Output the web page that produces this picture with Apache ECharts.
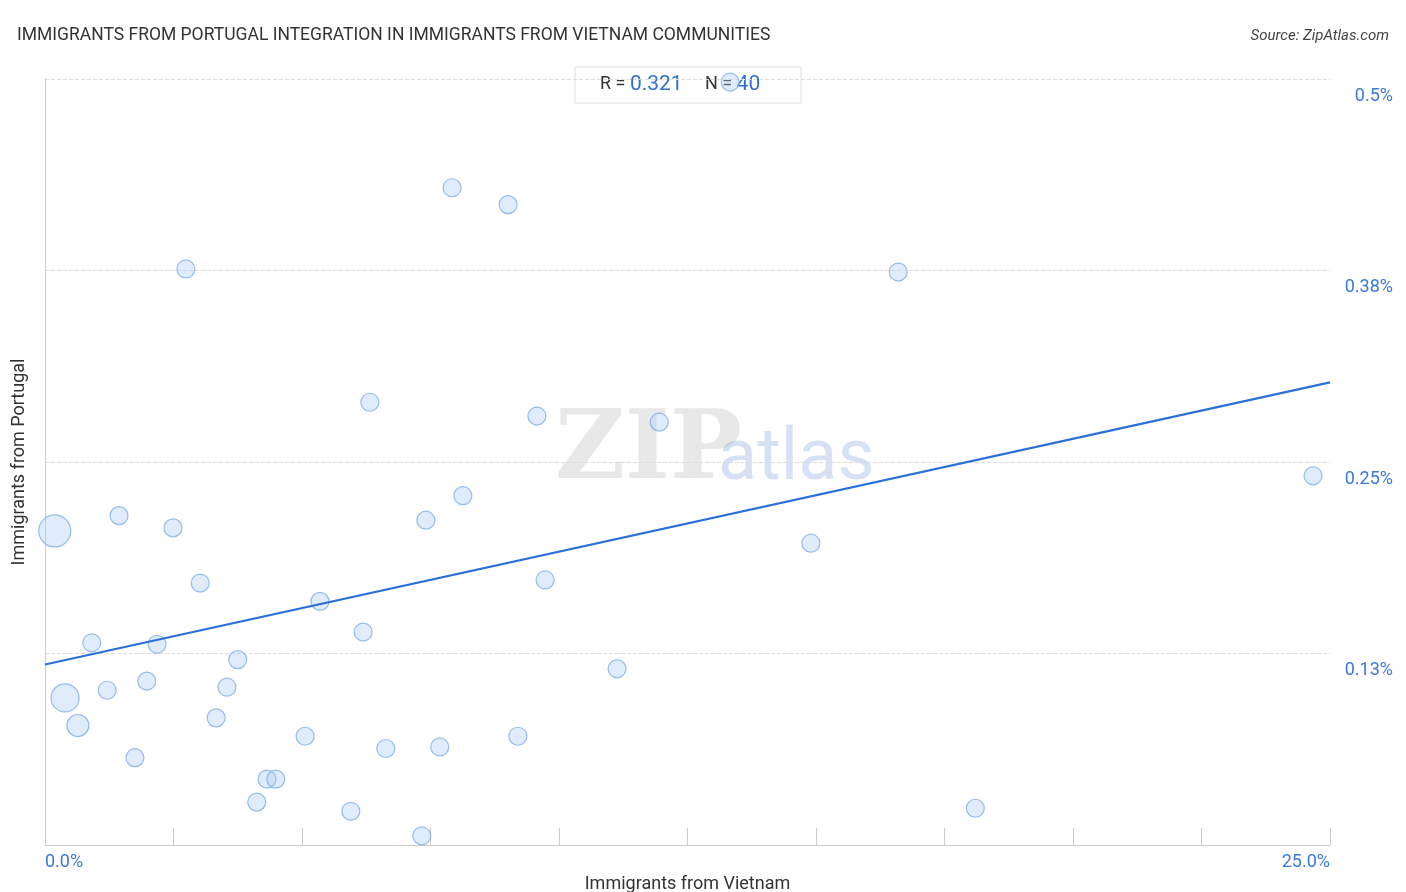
<!DOCTYPE html>
<html><head><meta charset="utf-8">
<script src="https://cdn.jsdelivr.net/npm/echarts@6/dist/echarts.min.js"></script>
<style>html,body{margin:0;padding:0;background:#fff}#c{width:1406px;height:892px}</style>
</head><body><div id="c"></div>
<script>
const xValues=[0.19,0.39,0.64,0.91,1.21,1.44,1.75,1.98,2.18,2.49,2.74,3.02,3.33,3.54,3.75,4.12,4.32,4.49,5.06,5.35,5.95,6.19,6.32,6.63,7.33,7.41,7.68,7.92,8.13,9.01,9.20,9.57,9.73,11.13,11.95,13.33,14.90,16.60,18.10,24.67];
const yValues=[0.205,0.096,0.078,0.132,0.101,0.215,0.057,0.107,0.131,0.207,0.376,0.171,0.083,0.103,0.121,0.028,0.043,0.043,0.071,0.159,0.022,0.139,0.289,0.063,0.006,0.212,0.064,0.429,0.228,0.418,0.071,0.280,0.173,0.115,0.276,0.498,0.197,0.374,0.024,0.241];
const sizes=[32,28,22,18,18,18,18,18,18,18,18,18,18,18,18,18,18,18,18,18,18,18,18,18,18,18,18,18,18,18,18,18,18,18,18,18,18,18,18,18];
const trendX=[0,25];
const trendY=[0.1178,0.302];
const yTicks=[0.125,0.25,0.375,0.5];
const yTickLabels=['0.13%','0.25%','0.38%','0.5%'];

const chart=echarts.init(document.getElementById('c'));
chart.setOption({
  animation:false,
  grid:{left:45,right:76,top:79,bottom:47,containLabel:false,outerBoundsMode:'none'},
  title:[{text:'IMMIGRANTS FROM PORTUGAL INTEGRATION IN IMMIGRANTS FROM VIETNAM COMMUNITIES',left:12,top:22,textStyle:{fontFamily:'Roboto',fontSize:17.5,fontWeight:'normal',color:'#333'}},
         {text:'Source: ZipAtlas.com',right:12,top:24,textStyle:{fontFamily:'Roboto',fontSize:15,fontStyle:'italic',fontWeight:'normal',color:'#444'}}],
  graphic:[
    {type:'text',left:555,top:405,style:{text:'ZIP',font:'bold 96px "DejaVu Serif"',fill:'rgba(190,190,190,0.35)'}},
    {type:'text',left:718,top:425,style:{text:'atlas',font:'72px Roboto',fill:'rgba(120,160,220,0.3)'}},
    {type:'rect',shape:{x:575,y:67,width:226,height:36},style:{fill:'#fff',stroke:'#ddd',lineWidth:1}},
    {type:'text',left:600,top:74,style:{rich:{a:{fontSize:18,fontFamily:'Roboto',fill:'#333'},b:{fontSize:21,fontFamily:'Roboto',fill:'#2f6fd6'}},text:'{a|R = }{b|0.321}{a|     N = }{b|40}'}}
  ],
  xAxis:{type:'value',min:0,max:25,interval:2.5,name:'Immigrants from Vietnam',nameLocation:'middle',nameGap:19,
    nameTextStyle:{fontFamily:'Roboto',fontSize:18,color:'#333'},
    axisLine:{show:true,lineStyle:{color:'#ccc'}},
    axisTick:{show:true,inside:true,length:17,lineStyle:{color:'#ccc'}},
    splitLine:{show:false},
    axisLabel:{fontFamily:'Roboto',fontSize:18,color:'#3c78d8',margin:8,alignMinLabel:'left',alignMaxLabel:'right',
      formatter:v=>(v===0?'0.0%':(v===25?'25.0%':''))}},
  yAxis:[{type:'value',min:0,max:0.5,interval:0.125,position:'left',name:'Immigrants from Portugal',nameLocation:'middle',nameGap:17,
    nameTextStyle:{fontFamily:'Roboto',fontSize:18,color:'#333'},
    axisLine:{show:true,lineStyle:{color:'#ccc'}},axisTick:{show:false},
    splitLine:{lineStyle:{type:'dashed',color:'#ddd'}},
    axisLabel:{show:false}},
   {type:'value',min:0,max:0.5,interval:0.125,position:'right',
    axisLine:{show:false},axisTick:{show:false},splitLine:{show:false},
    axisLabel:{showMinLabel:false,fontFamily:'Roboto',fontSize:18,color:'#3c78d8',align:'right',margin:63,verticalAlign:'top',padding:[8,0,0,0],
      formatter:v=>{const i=yTicks.indexOf(v);return i>=0?yTickLabels[i]:'';}}}],
  series:[
    {type:'scatter',data:xValues.map((x,i)=>[x,yValues[i],sizes[i]]),symbolSize:d=>d[2],
      itemStyle:{color:'rgba(170,200,245,0.45)',borderColor:'#7eaee8',borderWidth:1.2},z:3},
    {type:'line',data:trendX.map((x,i)=>[x,trendY[i]]),symbol:'none',lineStyle:{color:'#2b6fd8',width:2.2},z:4}
  ]
});
</script></body></html>
